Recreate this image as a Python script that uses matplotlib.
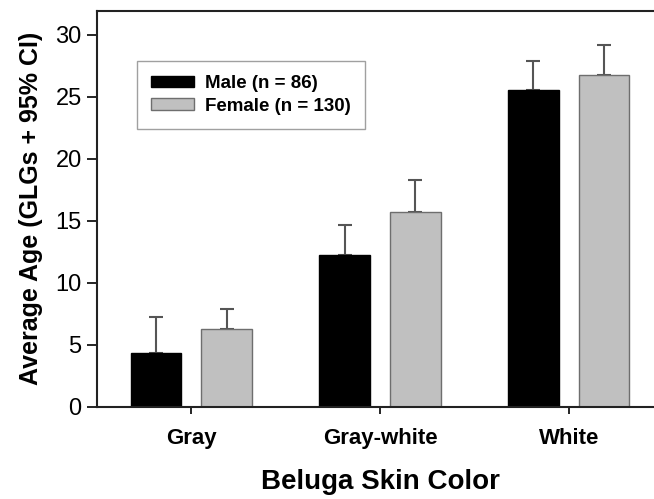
import numpy as np
import matplotlib
matplotlib.use('Agg')
import matplotlib.pyplot as plt

plt.rcParams['font.family'] = ['Liberation Sans', 'DejaVu Sans']

# Edad media por color de piel, con límite superior del IC 95%
categorias = ['Gray', 'Gray-white', 'White']
media_machos = [4.35, 12.23, 25.54]
ic_machos = [2.85, 2.40, 2.34]
media_hembras = [6.27, 15.68, 26.73]
ic_hembras = [1.61, 2.60, 2.42]
etiquetas = ['Male (n = 86)', 'Female (n = 130)']

fig = plt.figure(figsize=(6.54, 4.99), dpi=100)
ax = fig.add_axes([0.1483, 0.185, 0.8655, 0.793])

x = np.arange(len(categorias))
ancho = 0.269
desp = 0.187
color_err = '#555555'

ax.bar(x - desp, media_machos, ancho, color='black', edgecolor='black',
       linewidth=1, label=etiquetas[0], zorder=2)
ax.bar(x + desp, media_hembras, ancho, color='#c0c0c0', edgecolor='#6e6e6e',
       linewidth=1, label=etiquetas[1], zorder=2)

ax.errorbar(x - desp, media_machos, yerr=[np.zeros(3), ic_machos], fmt='none',
            ecolor=color_err, elinewidth=1.5, capsize=4.7, capthick=1.5, zorder=1)
ax.errorbar(x + desp, media_hembras, yerr=[np.zeros(3), ic_hembras], fmt='none',
            ecolor=color_err, elinewidth=1.5, capsize=4.7, capthick=1.5, zorder=1)

ax.set_xlim(-0.5, 2.5)
ax.set_ylim(0, 31.9)
ax.set_yticks([0, 5, 10, 15, 20, 25, 30])
ax.set_xticks(x)
ax.set_xticklabels(categorias, fontsize=16, fontweight='bold')
ax.tick_params(axis='y', labelsize=17, direction='out', length=7, width=1.2, pad=4)
ax.tick_params(axis='x', direction='out', length=5, width=1.2, pad=10)

for lado in ['left', 'bottom', 'top']:
    ax.spines[lado].set_linewidth(1.5)
    ax.spines[lado].set_color('#222222')
ax.spines['right'].set_visible(False)

ax.set_ylabel('Average Age (GLGs + 95% CI)', fontsize=18, fontweight='bold', labelpad=9)
ax.set_xlabel('Beluga Skin Color', fontsize=20, fontweight='bold', labelpad=15)

leg = ax.legend(loc='upper left', bbox_to_anchor=(137 / 654, 1 - 61 / 499),
                bbox_transform=fig.transFigure, borderaxespad=0,
                prop={'weight': 'bold', 'size': 13.5}, handlelength=2.3,
                handleheight=0.6, handletextpad=0.6, labelspacing=0.3,
                borderpad=0.75, fancybox=False, frameon=True)
leg.get_frame().set_edgecolor('#888888')
leg.get_frame().set_linewidth(1)

fig.savefig('out.png', dpi=100)
